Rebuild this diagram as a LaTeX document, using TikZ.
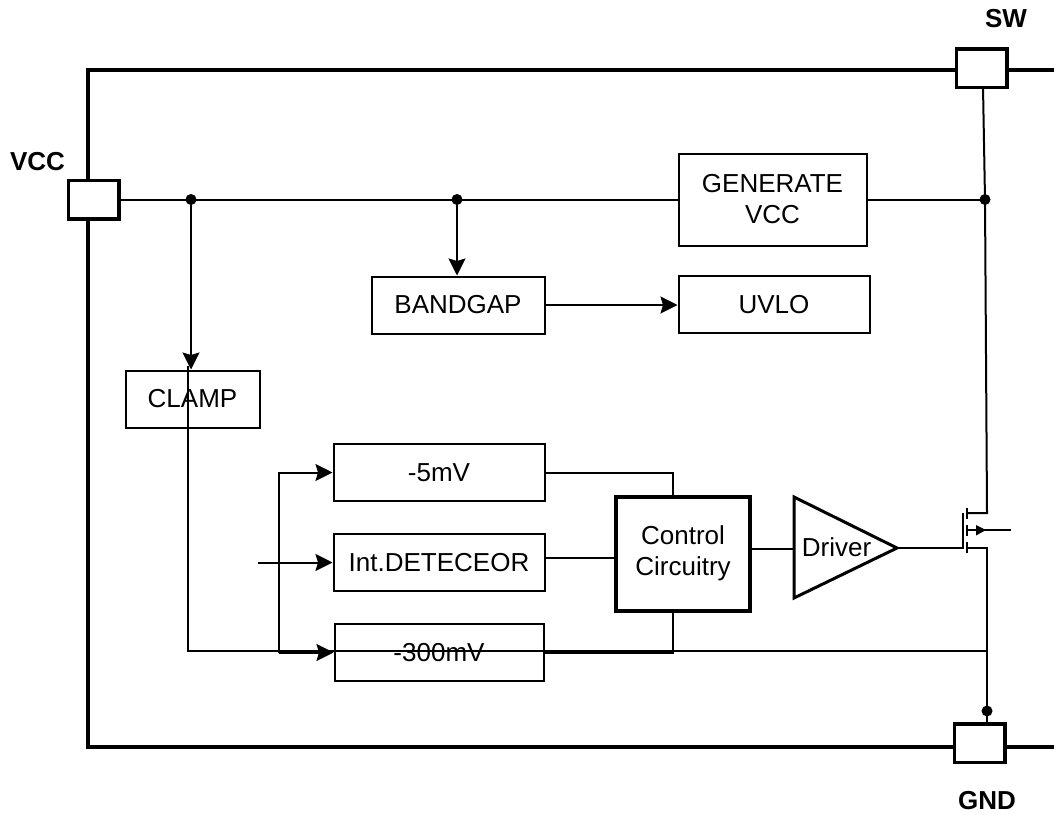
\documentclass[tikz,border=0pt]{standalone}
\usepackage{fontspec}
\setmainfont{Liberation Sans}
\usetikzlibrary{arrows.meta}
\tikzset{
    thinline/.style={line width=2pt},
    sigline/.style={line width=2pt, -{Stealth[length=17pt,width=17pt,inset=2.5pt]}},
    frameline/.style={line width=4pt},
    blockbox/.style={draw, line width=2pt, align=center, inner sep=0pt, font=\fontsize{26}{31}\selectfont},
    pinbox/.style={draw, line width=3.5pt, inner sep=0pt, minimum width=50.5pt, minimum height=38.5pt},
    pinlabel/.style={inner sep=0pt, font=\fontsize{26}{31}\selectfont\bfseries},
    junction/.style={circle, fill=black, inner sep=0pt, minimum size=11pt}
}
\begin{document}
\begin{tikzpicture}[x=1pt,y=-1pt]
        \useasboundingbox (0,0) rectangle (1054,814);
        \node[pinbox] (vccpin) at (93.5,199.5) {};
        \node[pinbox] (swpin) at (981.5,68) {};
        \node[pinbox] (gndpin) at (979.5,743) {};
        \node[pinlabel] (vcclabel) at (37.5,162) {VCC};
        \node[pinlabel] (swlabel) at (1006,19) {SW};
        \node[pinlabel] (gndlabel) at (987,801) {GND};

        \node[blockbox, minimum width=188pt, minimum height=92pt] (genvcc) at (772.5,199.5) {GENERATE\\VCC};
        \node[blockbox, minimum width=173pt, minimum height=57pt] (bandgap) at (458,305) {BANDGAP};
        \node[blockbox, minimum width=191pt, minimum height=57pt] (uvlo) at (774,304.5) {UVLO};
        \node[blockbox, minimum width=134pt, minimum height=57pt] (clamp) at (192.5,399) {CLAMP};
        \node[blockbox, minimum width=211pt, minimum height=57pt] (five) at (439,472.5) {-5mV};
        \node[blockbox, minimum width=211pt, minimum height=57pt] (detector) at (439,562.5) {Int.DETECEOR};
        \node[blockbox, minimum width=209pt, minimum height=57pt] (mvlow) at (439,652.5) {-300mV};
        \node[blockbox, line width=4pt, minimum width=134pt, minimum height=114pt] (ctrl) at (683,553.7) {Control\\Circuitry};
        \node[inner sep=0pt, font=\fontsize{26}{31}\selectfont] (driver) at (836.5,547) {Driver};

        \node[junction] (dotclamp) at (191,199.5) {};
        \node[junction] (dotgap) at (457,199.5) {};
        \node[junction] (dotsw) at (985,199.5) {};
        \node[junction] (dotgnd) at (987,711) {};

        \coordinate (frametl) at (88,70);
        \coordinate (framebl) at (88,747);
        \coordinate (frametr) at (1054,70);
        \coordinate (framebr) at (1054,747);
        \draw[frameline] (swpin.west |- frametl) -- (frametl) -- (frametl |- vccpin.north);
        \draw[frameline] (framebl |- vccpin.south) -- (framebl) -- (gndpin.west |- framebl);
        \draw[frameline] (swpin.east |- frametr) -- (frametr);
        \draw[frameline] (gndpin.east |- framebr) -- (framebr);

        \coordinate (drvtop) at (794,497);
        \coordinate (drvbot) at (794,598);
        \coordinate (drvtip) at (897,548);
        \draw[line width=3pt, line join=miter] (drvtop) -- (drvtip) -- (drvbot) -- cycle;

        \draw[thinline] (vccpin.east) -- (genvcc.west);
        \draw[thinline] (genvcc.east) -- (dotsw.center);
        \draw[sigline] (dotclamp.center) -- (dotclamp |- clamp.north);
        \draw[sigline] (dotgap.center) -- (dotgap |- bandgap.north);
        \draw[sigline] (bandgap.east) -- (uvlo.west |- bandgap.east);

        \coordinate (railtop) at (188,366);
        \coordinate (railcorner) at (188,651);
        \coordinate (railend) at (985.5,651);
        \coordinate (tap) at (279,652.5);
        \coordinate (detin) at (258,562.5);
        \coordinate (detout) at (544,558);
        \coordinate (ctrltop) at (673,498);
        \coordinate (ctrlbot) at (673,609);
        \coordinate (ctrlout) at (749,549);
        \draw[thinline] (railtop) -- (railcorner) -- (railend);
        \draw[sigline] (tap) |- (five.west);
        \draw[sigline] (tap) -- (mvlow.west);
        \draw[sigline] (detin) -- (detector.west);
        \draw[thinline] (five.east) -| (ctrltop);
        \draw[thinline] (mvlow.east) -| (ctrlbot);
        \draw[thinline] (detout) -- (detout -| ctrl.west);
        \draw[thinline] (ctrlout) -- (ctrlout -| drvtop);

        \coordinate (drain) at (987,513);
        \coordinate (source) at (987,548);
        \coordinate (gate) at (963,548);
        \coordinate (body) at (1011,530);
        \draw[thinline] (983,87) -- (dotsw.center) -- (drain) -- (967,513);
        \draw[thinline] (drvtip) -- (gate) -- (963,513);
        \draw[thinline] (967,548) -- (source) -- (dotgnd.center) -- (dotgnd |- gndpin.north);
        \draw[thinline] (967,508) -- (967,519);
        \draw[thinline] (967,525) -- (967,536);
        \draw[thinline] (967,542) -- (967,553);
        \draw[thinline] (967,530) -- (body);
        \fill (976,525) -- (986,530) -- (976,535.5) -- cycle;
    \end{tikzpicture}
\end{document}
